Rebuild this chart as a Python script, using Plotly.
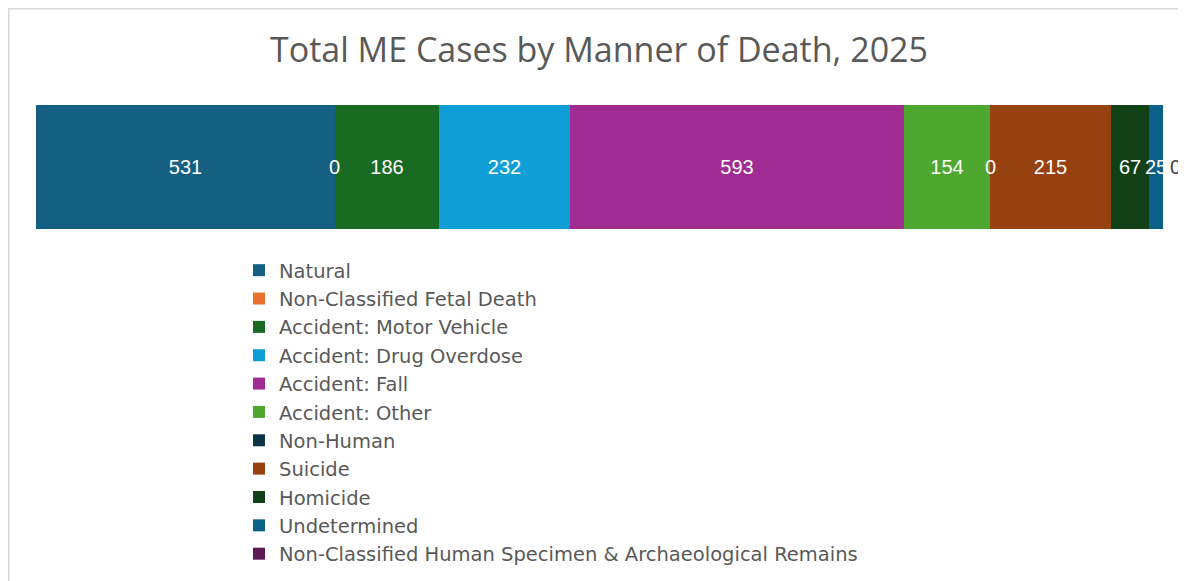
import plotly.graph_objects as go

categories = ["Natural", "Non-Classified Fetal Death", "Accident: Motor Vehicle",
              "Accident: Drug Overdose", "Accident: Fall", "Accident: Other",
              "Non-Human", "Suicide", "Homicide", "Undetermined",
              "Non-Classified Human Specimen & Archaeological Remains"]
values = [531, 0, 186, 232, 593, 154, 0, 215, 67, 25, 0]
colors = ["#156082", "#E97132", "#196B24", "#0F9ED5", "#A02B93", "#4EA72E",
          "#0D3349", "#974110", "#113F16", "#0A6086", "#5F1955"]
row = ["2025"]
title = "Total ME Cases by Manner of Death, 2025"

W, H = 1186, 581
OFF = 8  # page body margin
L = 36 - OFF
R = W - (1163 - OFF)
pw = W - L - R

fig = go.Figure()
annotations = []
cum = 0
for i, (name, v, c) in enumerate(zip(categories, values, colors)):
    fig.add_trace(go.Bar(
        y=row, x=[v], name=name, orientation="h",
        marker=dict(color=c, line=dict(width=0)),
        text=[str(v)] if v > 0 else None,
        textposition="inside", insidetextanchor="middle",
        constraintext="none", textangle=0,
        textfont=dict(color="white", size=20, family="Liberation Sans"),
        hoverinfo="name+x",
    ))
    cum += v
    if v == 0:
        last = i == len(values) - 1
        annotations.append(dict(
            x=cum, y=0, xref="x", yref="y", text="0", showarrow=False,
            xshift=12 if last else 0,
            font=dict(color="#404040" if last else "white", size=20,
                      family="Liberation Sans")))

total = sum(values)

fig.update_layout(
    width=W, height=H,
    margin=dict(l=L, r=R, t=0, b=0, pad=0, autoexpand=False),
    barmode="stack", bargap=0,
    paper_bgcolor="white", plot_bgcolor="rgba(0,0,0,0)",
    title=dict(text=title, x=591 / W, xanchor="center", xref="container",
               y=1 - 42 / H, yref="container", yanchor="middle",
               font=dict(family="Open Sans", size=34, color="#595959")),
    xaxis=dict(visible=False, range=[0, total], fixedrange=True),
    yaxis=dict(visible=False, fixedrange=True, type="category",
               range=[-0.5, 0.5],
               domain=[(H - (229 - OFF)) / H, (H - (105 - OFF)) / H]),
    showlegend=True,
    legend=dict(orientation="v", traceorder="normal",
                x=(231 - L) / pw, xanchor="left",
                y=(H - 243) / H, yanchor="top",
                font=dict(family="DejaVu Sans", size=19.5, color="#595959"),
                bgcolor="rgba(0,0,0,0)", itemclick=False, maxheight=1),
    annotations=annotations,
    shapes=[dict(type="rect", xref="paper", yref="paper",
                 x0=(0.8 - L) / pw, x1=(1200 - L) / pw,
                 y0=-0.1, y1=(H - 0.8) / H,
                 line=dict(color="#D9D9D9", width=1.5), layer="below")],
)

fig.write_html("out.html")
